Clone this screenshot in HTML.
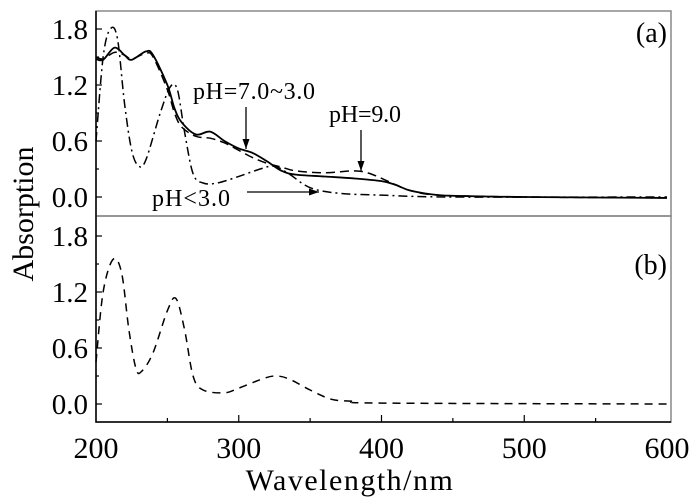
<!DOCTYPE html>
<html><head><meta charset="utf-8"><style>
body{margin:0;background:#fff}
svg{display:block;font-family:"Liberation Serif",serif}
</style></head><body>
<svg id="chart" width="700" height="504" viewBox="0 0 700 504" xmlns="http://www.w3.org/2000/svg">
<g id="g"></g>
</svg>
<script>
const solidW=[200,205,213,220,225,235,240,250,255,260,270,280,290,300,310,320,330,340,360,380,400,410,420,440,460,500,600];
const solidA=[1.48,1.47,1.60,1.52,1.47,1.56,1.52,1.2,0.95,0.8,0.67,0.70,0.6,0.52,0.47,0.38,0.28,0.24,0.22,0.20,0.17,0.13,0.07,0.02,0.01,0,-0.01];
const dashW=[200,205,213,220,225,235,240,250,255,260,270,280,290,300,310,320,330,340,360,380,390,400,410,420,440,500,600];
const dashA=[1.5,1.48,1.55,1.52,1.48,1.54,1.50,1.15,0.9,0.75,0.65,0.63,0.58,0.5,0.42,0.36,0.32,0.28,0.26,0.28,0.26,0.2,0.13,0.07,0.02,0,-0.01];
const ddW=[200,205,210,215,220,225,230,235,245,252,257,262,268,275,285,300,315,325,335,350,370,400,450,600];
const ddA=[0.6,1.5,1.80,1.7,1.0,0.5,0.33,0.4,0.9,1.18,1.15,0.7,0.25,0.15,0.15,0.22,0.30,0.33,0.25,0.1,0.04,0.02,0,0];
const bW=[200,205,212,218,223,228,232,240,250,256,262,268,275,290,300,315,325,335,350,365,380,400,600];
const bA=[0.45,1.2,1.55,1.4,0.8,0.38,0.35,0.55,1.0,1.13,0.8,0.3,0.15,0.12,0.17,0.26,0.30,0.27,0.15,0.05,0.03,0.01,0];
const xTicks=[200,300,400,500,600];
const yTicks=[0.0,0.6,1.2,1.8];

const NS="http://www.w3.org/2000/svg", g=document.getElementById('g');
const X0=96,X1=667,W0=200,W1=600;
const x=w=>X0+(w-W0)*(X1-X0)/(W1-W0);
const yT=a=>197-a*93.33, yB=a=>404-a*93.33;
function el(t,at,txt){const e=document.createElementNS(NS,t);for(const k in at)e.setAttribute(k,at[k]);if(txt!==undefined)e.textContent=txt;g.appendChild(e);return e;}
function smooth(ws,as,fy){const p=ws.map((w,i)=>[x(w),fy(as[i])]);let d=`M${p[0][0]},${p[0][1]}`;
for(let i=0;i<p.length-1;i++){const p0=p[i-1]||p[i],p1=p[i],p2=p[i+1],p3=p[i+2]||p2;
d+=` C${p1[0]+(p2[0]-p0[0])/6},${p1[1]+(p2[1]-p0[1])/6} ${p2[0]-(p3[0]-p1[0])/6},${p2[1]-(p3[1]-p1[1])/6} ${p2[0]},${p2[1]}`;}return d;}
let e;
e=el('rect',{x:X0,y:11,width:X1-X0+4,height:205,fill:'none',stroke:'#888','stroke-width':1.5});

e=el('rect',{x:X0,y:216,width:X1-X0+4,height:206,fill:'none',stroke:'#888','stroke-width':1.5});

e=el('path',{d:`M${X0},11V422H${X1+4}`,fill:'none',stroke:'#000','stroke-width':1.5});

[yT,yB].forEach((fy,pi)=>{
for(let v=0;v<=1.81;v+=0.3){const big=Math.abs(v/0.6-Math.round(v/0.6))<0.01;
e=el('line',{x1:X0,x2:X0+(big?6:3),y1:fy(v),y2:fy(v),stroke:'#000','stroke-width':1.2});
}
yTicks.forEach(v=>{e=el('text',{x:88,y:fy(v)+10,'text-anchor':'end','font-size':29},v.toFixed(1));
});
});
for(let w=250;w<600;w+=50){e=el('line',{x1:x(w),x2:x(w),y1:422,y2:w%100?418:415,stroke:'#000','stroke-width':1.2});
}
xTicks.forEach(w=>{e=el('text',{x:x(w),y:458,'text-anchor':'middle','font-size':30},w);
});
e=el('text',{x:350,y:490,'text-anchor':'middle','font-size':30,'letter-spacing':1.5},'Wavelength/nm');

e=el('text',{x:0,y:0,'text-anchor':'middle','font-size':30,transform:'translate(33,214) rotate(-90)'},'Absorption');

e=el('path',{d:smooth(solidW,solidA,yT),fill:'none',stroke:'#000','stroke-width':1.8});

e=el('path',{d:smooth(dashW,dashA,yT),fill:'none',stroke:'#000','stroke-width':1.5,'stroke-dasharray':'9,5'});

e=el('path',{d:smooth(ddW,ddA,yT),fill:'none',stroke:'#000','stroke-width':1.5,'stroke-dasharray':'9,4,2,4'});

e=el('path',{d:smooth(bW,bA,yB),fill:'none',stroke:'#000','stroke-width':1.5,'stroke-dasharray':'8,6'});

function arrow(x1,y1,x2,y2,name){e=el('line',{x1,y1,x2,y2,stroke:'#000','stroke-width':1.3});

const a=Math.atan2(y2-y1,x2-x1),L=10,h=3.5;
e=el('polygon',{points:`${x2},${y2} ${x2-L*Math.cos(a)+h*Math.sin(a)},${y2-L*Math.sin(a)-h*Math.cos(a)} ${x2-L*Math.cos(a)-h*Math.sin(a)},${y2-L*Math.sin(a)+h*Math.cos(a)}`,fill:'#000'});
}
e=el('text',{x:193,y:99,'font-size':24,textLength:122},'pH=7.0~3.0');

arrow(246,107,246,149,'arrow-ph-7-3');
e=el('text',{x:329,y:122,'font-size':24,textLength:72},'pH=9.0');

arrow(361,130,361,171,'arrow-ph-9');
e=el('text',{x:152,y:206,'font-size':24,textLength:78},'pH<3.0');

arrow(247,192,319,192,'arrow-ph-below-3');
e=el('text',{x:667,y:42,'text-anchor':'end','font-size':28},'(a)');

e=el('text',{x:667,y:274,'text-anchor':'end','font-size':28},'(b)');

</script>
</body></html>
